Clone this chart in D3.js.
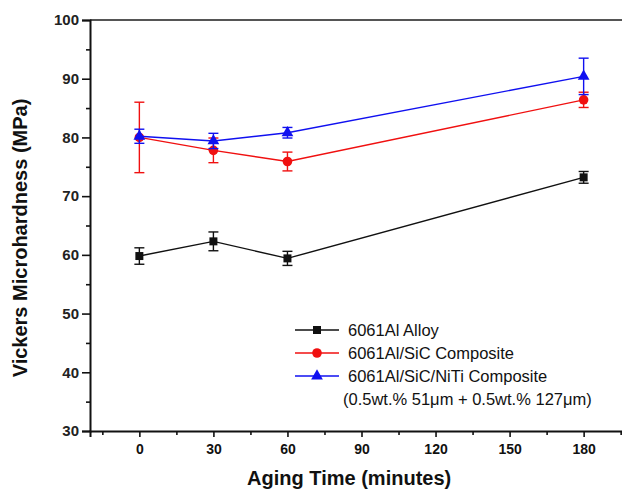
<!DOCTYPE html>
<html><head><meta charset="utf-8">
<script src="https://cdn.jsdelivr.net/npm/d3@7"></script>
<style>body{margin:0;background:#fff}svg{display:block}</style>
</head><body>
<svg id="c" width="622" height="489"></svg>
<script>
const times = [0, 30, 60, 180];
const alloy = [59.8, 62.3, 59.4, 73.2];
const alloyErr = [1.4, 1.6, 1.2, 1.0];
const sic = [80.0, 77.8, 75.9, 86.4];
const sicErr = [6.0, 2.1, 1.6, 1.3];
const niti = [80.2, 79.4, 80.8, 90.4];
const nitiErr = [1.2, 1.3, 0.9, 3.1];
const seriesNames = ["6061Al Alloy", "6061Al/SiC Composite", "6061Al/SiC/NiTi Composite"];
const legendNote = "(0.5wt.% 51\u03bcm + 0.5wt.% 127\u03bcm)";
const xMajor = [0, 30, 60, 90, 120, 150, 180];
const xMinor = [-15, 15, 45, 75, 105, 135, 165, 195];
const yMajor = [30, 40, 50, 60, 70, 80, 90, 100];
const yMinor = [35, 45, 55, 65, 75, 85, 95];

const svg = d3.select("#c");
const font = "'Liberation Sans', Arial, sans-serif";
const x = d3.scaleLinear().domain([-20, 200]).range([90, 633]);
const y = d3.scaleLinear().domain([30, 100]).range([431, 20]);

// top frame line
svg.append("line").attr("x1", 90).attr("x2", 640).attr("y1", y(100)).attr("y2", y(100))
  .attr("stroke", "#555").attr("stroke-width", 2);

// Y axis
const yAx = svg.append("g").attr("transform", "translate(90,0)")
  .call(d3.axisLeft(y).tickValues(yMajor).tickSize(8).tickPadding(3).tickFormat(d3.format("d")));
yAx.select(".domain").attr("stroke", "#111").attr("stroke-width", 2);
yAx.selectAll(".tick line").attr("stroke", "#111").attr("stroke-width", 1.6);
yAx.selectAll("text").attr("font-family", font).attr("font-size", 15).attr("font-weight", "bold").attr("fill", "#222");
const yAxMin = svg.append("g").attr("transform", "translate(90,0)")
  .call(d3.axisLeft(y).tickValues(yMinor).tickSize(4).tickFormat(""));
yAxMin.select(".domain").remove();
yAxMin.selectAll(".tick line").attr("stroke", "#111").attr("stroke-width", 1.6);

// X axis
const xAx = svg.append("g").attr("transform", `translate(0,${y(30)})`)
  .call(d3.axisBottom(x).tickValues(xMajor).tickSize(6).tickPadding(7).tickFormat(d3.format("d")));
xAx.select(".domain").attr("stroke", "#111").attr("stroke-width", 2);
xAx.selectAll(".tick line").attr("stroke", "#111").attr("stroke-width", 1.6);
xAx.selectAll("text").attr("font-family", font).attr("font-size", 14).attr("font-weight", "bold").attr("fill", "#111");
const xAxMin = svg.append("g").attr("transform", `translate(0,${y(30)})`)
  .call(d3.axisBottom(x).tickValues(xMinor).tickSize(4).tickFormat(""));
xAxMin.select(".domain").remove();
xAxMin.selectAll(".tick line").attr("stroke", "#111").attr("stroke-width", 1.6);

// axis titles
svg.append("text").attr("x", x(85)).attr("y", 485).attr("text-anchor", "middle")
  .attr("font-family", font).attr("font-size", 20).attr("font-weight", "bold").attr("fill", "#111")
  .text("Aging Time (minutes)");
svg.append("text").attr("transform", "translate(27,238) rotate(-90)").attr("text-anchor", "middle")
  .attr("font-family", font).attr("font-size", 20).attr("font-weight", "bold").attr("fill", "#111")
  .text("Vickers Microhardness (MPa)");

const series = [
  {vals: alloy, err: alloyErr, color: "#111", shape: d3.symbolSquare, size: 64},
  {vals: sic, err: sicErr, color: "#f01010", shape: d3.symbolCircle, size: 72},
  {vals: niti, err: nitiErr, color: "#1010f0", shape: d3.symbolTriangle, size: 60}
];
const line = d3.line().x(d => x(d[0])).y(d => y(d[1]));

series.forEach(s => {
  const pts = times.map((t, i) => [t, s.vals[i], s.err[i]]);
  const g = svg.append("g");
  g.append("path").datum(pts).attr("d", line).attr("fill", "none")
    .attr("stroke", s.color).attr("stroke-width", 1.4);
  pts.forEach(p => {
    const cx = x(p[0]);
    g.append("line").attr("x1", cx).attr("x2", cx).attr("y1", y(p[1] - p[2])).attr("y2", y(p[1] + p[2]))
      .attr("stroke", s.color).attr("stroke-width", 1.4);
    [p[1] - p[2], p[1] + p[2]].forEach(v => {
      g.append("line").attr("x1", cx - 5).attr("x2", cx + 5).attr("y1", y(v)).attr("y2", y(v))
        .attr("stroke", s.color).attr("stroke-width", 1.4);
    });
    g.append("path").attr("d", d3.symbol().type(s.shape).size(s.size)())
      .attr("transform", `translate(${cx},${y(p[1])})`).attr("fill", s.color);
  });
});

// legend
const lg = svg.append("g");
const rowY = [330, 353, 376];
series.forEach((s, i) => {
  lg.append("line").attr("x1", 295).attr("x2", 339).attr("y1", rowY[i]).attr("y2", rowY[i])
    .attr("stroke", s.color).attr("stroke-width", 1.4);
  lg.append("path").attr("d", d3.symbol().type(s.shape).size(s.size)())
    .attr("transform", `translate(317,${rowY[i]})`).attr("fill", s.color);
  lg.append("text").attr("x", 348).attr("y", rowY[i] + 6).attr("font-family", font)
    .attr("font-size", 16.5).attr("fill", "#111").text(seriesNames[i]);
});
lg.append("text").attr("x", 343).attr("y", 405).attr("font-family", font)
  .attr("font-size", 16.5).attr("fill", "#111").text(legendNote);
</script>
</body></html>
